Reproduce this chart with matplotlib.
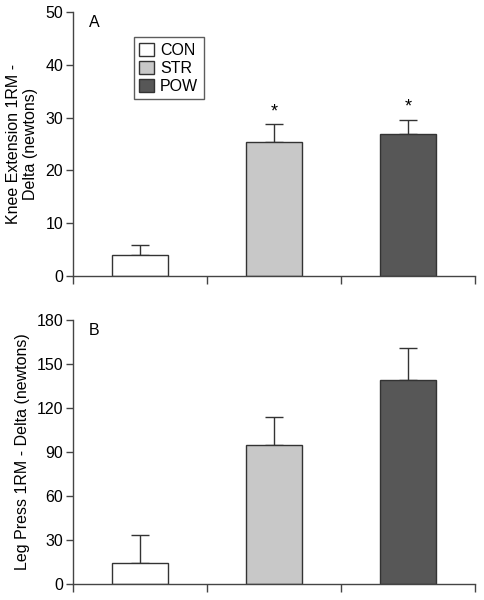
import matplotlib
matplotlib.use("Agg")
import matplotlib.pyplot as plt
import numpy as np
from matplotlib.patches import Patch

plt.rcParams["font.family"] = ["Liberation Sans", "DejaVu Sans"]

# Data
groups = ["CON", "STR", "POW"]
colors = ["#ffffff", "#c8c8c8", "#575757"]

knee_mean = [4.0, 25.4, 26.8]
knee_err = [1.9, 3.3, 2.8]
knee_sig = [False, True, True]

leg_mean = [14.5, 95.0, 139.0]
leg_err = [18.7, 19.0, 22.0]

edge = "#333333"
axis_col = "#444444"

fig = plt.figure(figsize=(4.85, 6.0), dpi=100)
ax1 = fig.add_axes([0.1505, 0.54, 0.8285, 0.44])
ax2 = fig.add_axes([0.1505, 0.0267, 0.8285, 0.44])

x = np.arange(len(groups)) + 0.5


def draw_panel(ax, means, errs, ymax, yticks, ylabel, letter):
    ax.bar(x, means, width=0.42, color=colors, edgecolor=edge, linewidth=1.0, zorder=2)
    ax.errorbar(x, means, yerr=[np.zeros(len(errs)), errs], fmt="none",
                ecolor=edge, elinewidth=1.0, capsize=6.5, capthick=1.0, zorder=1)
    ax.set_xlim(0, 3)
    ax.set_ylim(0, ymax)
    ax.set_yticks(yticks)
    ax.set_xticks([0, 1, 2, 3])
    ax.set_xticklabels([])
    for s in ["top", "right"]:
        ax.spines[s].set_visible(False)
    for s in ["left", "bottom"]:
        ax.spines[s].set_color(axis_col)
        ax.spines[s].set_linewidth(1.0)
    ax.tick_params(axis="y", direction="out", length=5, width=1.0, color=axis_col,
                   labelsize=11.5, pad=2)
    ax.tick_params(axis="x", direction="out", length=6, width=1.0, color=axis_col)
    ax.set_ylabel(ylabel, fontsize=11.5, labelpad=5)
    ax.text(0.12, ymax * 0.99, letter, fontsize=11.5, ha="left", va="top")


draw_panel(ax1, knee_mean, knee_err, 50, [0, 10, 20, 30, 40, 50],
           "Knee Extension 1RM -\nDelta (newtons)", "A")
draw_panel(ax2, leg_mean, leg_err, 180, [0, 30, 60, 90, 120, 150, 180],
           "Leg Press 1RM - Delta (newtons)", "B")

for xi, m, e, sig in zip(x, knee_mean, knee_err, knee_sig):
    if sig:
        ax1.text(xi, m + e + 0.8, "*", ha="center", va="bottom", fontsize=13)

handles = [Patch(facecolor=c, edgecolor=edge, linewidth=1.0) for c in colors]
leg = ax1.legend(handles, groups, loc="upper left", bbox_to_anchor=(0.151, 0.905),
                 fontsize=11.5, frameon=True, fancybox=False, handlelength=0.9,
                 handleheight=0.9, handletextpad=0.4, borderpad=0.35, labelspacing=0.18,
                 borderaxespad=0)
leg.get_frame().set_edgecolor(edge)
leg.get_frame().set_linewidth(1.0)

fig.savefig("out.png", dpi=100)
